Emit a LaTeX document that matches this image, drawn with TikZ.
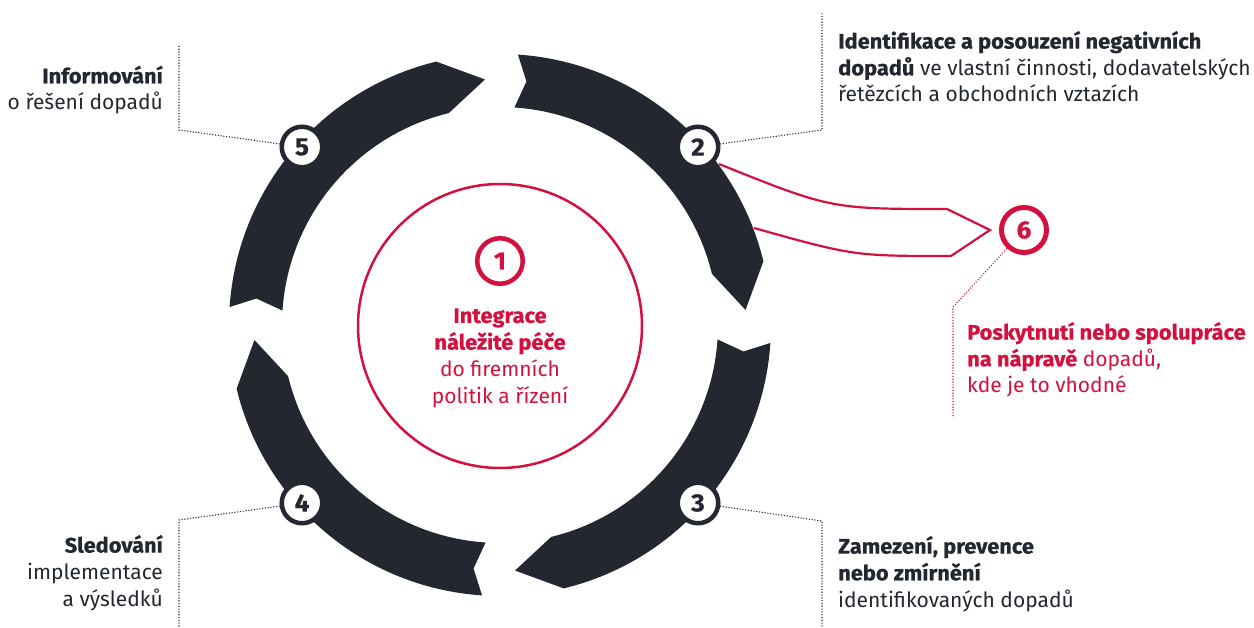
\documentclass[tikz,border=0pt]{standalone}
\usepackage{fontspec}
\setmainfont{Fira Sans}[BoldFeatures={FakeStretch=1.04,FakeBold=0.6}]
\usetikzlibrary{calc}
\definecolor{ink}{HTML}{23272F}
\definecolor{crim}{HTML}{D4103F}
\begin{document}
\begin{tikzpicture}[x=1pt,y=1pt,
  segm/.style={fill=ink},
  num/.style={circle,draw=ink,fill=white,line width=4.5pt,minimum size=40.5pt,inner sep=0pt,font=\fontsize{25}{25}\selectfont\bfseries,text=ink},
  rnum/.style={circle,draw=crim,fill=white,line width=5pt,minimum size=45pt,inner sep=0pt,font=\fontsize{25}{25}\selectfont\bfseries,text=crim},
  lead/.style={draw=ink,line width=1.1pt,dash pattern=on 1.1pt off 1.7pt},
  rlead/.style={draw=crim,line width=1.1pt,dash pattern=on 1.1pt off 1.7pt},
  txt/.style={font=\fontsize{21}{26.7}\selectfont,text=ink,inner sep=0pt},
  rtxt/.style={txt,text=crim},
  link/.style={draw=crim,line width=2.2pt,line join=miter},
]
\useasboundingbox (0,0) rectangle (1254,-628);

% leader bend points
\coordinate (b5a) at (179,-130); \coordinate (b5b) at (179,-46);
\coordinate (b2a) at (822,-130); \coordinate (b2b) at (822,-12);
\coordinate (b3a) at (822,-521); \coordinate (b3b) at (822,-628);
\coordinate (b4a) at (179,-520); \coordinate (b4b) at (179,-628);
\coordinate (b6a) at (953,-307); \coordinate (b6b) at (953,-418);

% centres of number circles (for leaders)
\coordinate (p2) at (698,-147);
\coordinate (p3) at (698,-503);
\coordinate (p4) at (302,-503);
\coordinate (p5) at (302,-147);
\coordinate (p6) at (1024,-230);

\draw[lead] (p5) -- (b5a) -- (b5b);
\draw[lead] (p2) -- (b2a) -- (b2b);
\draw[lead] (p3) -- (b3a) -- (b3b);
\draw[lead] (p4) -- (b4a) -- (b4b);
\draw[rlead] (p6) -- (b6a) -- (b6b);

% red link from step 2 to step 6
\coordinate (u0) at (719,-164);
\coordinate (u1) at (947,-209);
\coordinate (l0) at (754,-228);
\coordinate (l1) at (951,-256);
\coordinate (tip) at (990,-230);
\draw[link] (u0) .. controls (831,-209) .. (u1) -- (tip) -- (l1) .. controls (854,-256) .. (l0);

% ring segments
\begin{scope}[shift={(500,-325)}]
\foreach \a in {90,0,-90,180} {
  \pgfmathsetmacro\ta{\a-3.8}
  \pgfmathsetmacro\tn{\a-6.2}
  \pgfmathsetmacro\ha{\a-76.4}
  \pgfmathsetmacro\hp{\a-86.5}
  \fill[segm] (\ta:271) arc[start angle=\ta, end angle=\ha, radius=271]
     -- (\hp:246) -- (\ha:218) arc[start angle=\ha, end angle=\ta, radius=218]
     -- (\tn:245) -- cycle;
}
\end{scope}

% central circle
\node[circle,draw=crim,line width=2.5pt,minimum size=284pt,inner sep=0pt] (core) at (500,-326) {};
\node[rnum,minimum size=45.5pt,line width=4.5pt] (n1) at (500,-261) {1};
\node[rtxt,anchor=base,align=center] (t1) at (500,-403) {\textbf{Integrace}\\\textbf{náležité péče}\\do firemních\\politik a řízení};

% number circles
\node[num] (n2) at (p2) {2};
\node[num] (n3) at (p3) {3};
\node[num] (n4) at (p4) {4};
\node[num] (n5) at (p5) {5};
\node[rnum] (n6) at (p6) {6};

% texts
\node[txt,anchor=base east,align=right] (t5) at (163,-110) {\textbf{Informování}\\o řešení dopadů};
\node[txt,anchor=base west,align=left] (t2) at (838,-102) {\textbf{Identifikace a posouzení negativních}\\\textbf{dopadů} ve vlastní činnosti, dodavatelských\\řetězcích a obchodních vztazích};
\node[txt,anchor=base west,align=left] (t3) at (838,-607) {\textbf{Zamezení, prevence}\\\textbf{nebo zmírnění}\\identifikovaných dopadů};
\node[txt,anchor=base east,align=right] (t4) at (163,-606) {\textbf{Sledování}\\implementace\\a výsledků};
\node[rtxt,anchor=base west,align=left] (t6) at (967,-393) {\textbf{Poskytnutí nebo spolupráce}\\\textbf{na nápravě} dopadů,\\kde je to vhodné};
\end{tikzpicture}
\end{document}
